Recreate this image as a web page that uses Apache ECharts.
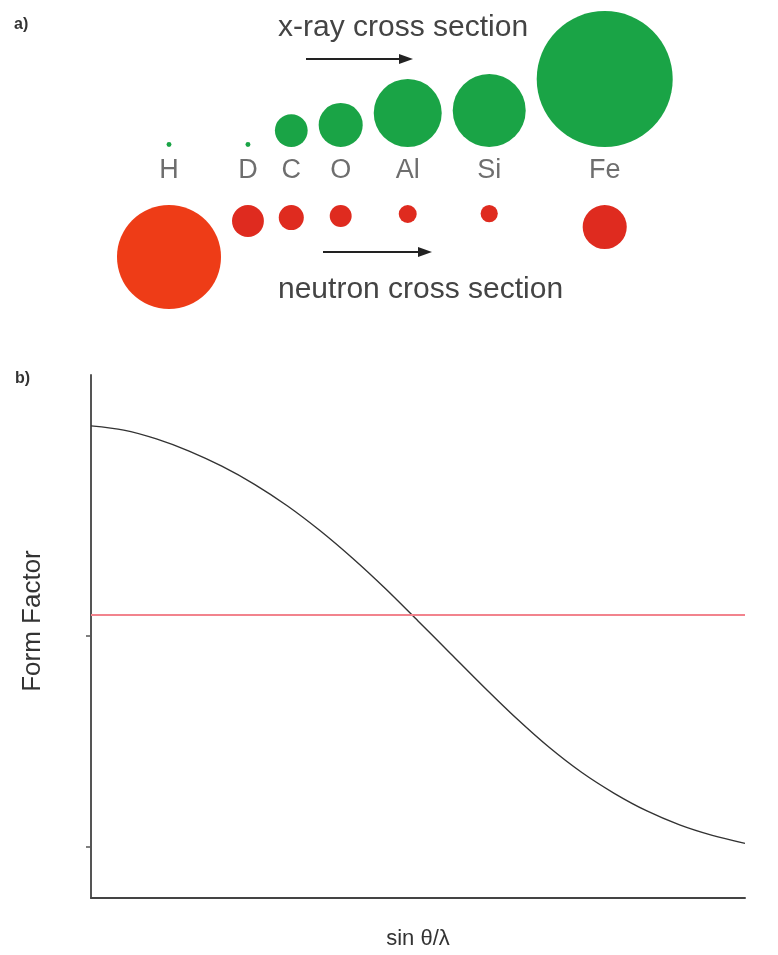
<!DOCTYPE html>
<html>
<head>
<meta charset="utf-8">
<script src="https://cdn.jsdelivr.net/npm/echarts@6/dist/echarts.min.js"></script>
<style>
  html, body { margin: 0; padding: 0; background: #fff; }
  #chart { width: 778px; height: 955px; }
</style>
</head>
<body>
<div id="chart"></div>
<script>
// ---- Panel a: scattering cross sections per element ----
const elements = ['H', 'D', 'C', 'O', 'Al', 'Si', 'Fe'];
// relative cross sections (Fe x-ray = 100); circle area is proportional to value
const xrayCross = [0.13, 0.13, 5.8, 10.5, 25, 28.8, 100];
const neutronCross = [58.5, 5.5, 3.4, 2.6, 1.75, 1.6, 10.5];

// ---- Panel b: form factor versus sin θ/λ ----
const sinThetaOverLambda = [0, 0.05, 0.1, 0.15, 0.2, 0.25, 0.3, 0.35, 0.4, 0.45, 0.5,
  0.55, 0.6, 0.65, 0.7, 0.75, 0.8, 0.85, 0.9, 0.95, 1.0];
const xrayFormFactor = [1.000, 0.990, 0.969, 0.940, 0.904, 0.861, 0.810, 0.751, 0.685, 0.613, 0.536,
  0.458, 0.380, 0.305, 0.236, 0.176, 0.126, 0.084, 0.051, 0.026, 0.007];
const neutronQ = [0, 1];
const neutronFormFactor = [0.55, 0.55];
const formFactorTicks = [0, 0.5];

// ---- layout helpers ----
const FONT = '"Liberation Sans", Arial, Helvetica, sans-serif';
const R_MAX = 68;           // radius of the largest circle, px
const GAP = 11;             // space between neighbouring circle columns, px
const START_X = 169;
const radius = v => R_MAX * Math.sqrt(v / 100);

// place columns side by side so the bigger circle of each pair never overlaps its neighbour
const colR = elements.map((_, i) => Math.max(radius(xrayCross[i]), radius(neutronCross[i])));
const colX = [];
colR.forEach((r, i) => {
  colX.push(i === 0 ? START_X : colX[i - 1] + colR[i - 1] + r + GAP);
});

const greenData = elements.map((e, i) => ({ name: e, value: [colX[i], 0, xrayCross[i]] }));
const redData = elements.map((e, i) => ({
  name: e,
  value: [colX[i], 1, neutronCross[i]],
  itemStyle: i === 0 ? { color: '#ee3c17' } : undefined
}));
const labelData = elements.map((e, i) => ({ name: e, value: [colX[i], 0.4] }));

const curve = sinThetaOverLambda.map((x, i) => [x, xrayFormFactor[i]]);
const flat = neutronQ.map((x, i) => [x, neutronFormFactor[i]]);

function arrow(x1, x2, y) {
  return [
    { type: 'line', shape: { x1: x1, y1: y, x2: x2 - 12, y2: y },
      style: { stroke: '#222', lineWidth: 2 } },
    { type: 'polygon', shape: { points: [[x2 - 14, y - 5], [x2, y], [x2 - 14, y + 5]] },
      style: { fill: '#222' } }
  ];
}

const chart = echarts.init(document.getElementById('chart'));
chart.setOption({
  animation: false,
  backgroundColor: '#fff',
  grid: [
    { left: 0, right: 0, top: 147, height: 58 },
    { left: 91, right: 33, top: 375, bottom: 55 }
  ],
  xAxis: [
    { gridIndex: 0, type: 'value', min: 0, max: 778, show: false },
    {
      gridIndex: 1, type: 'value', min: 0, max: 1,
      axisLine: { show: true, onZero: false, lineStyle: { color: '#444', width: 2 } },
      axisTick: { show: false }, axisLabel: { show: false }, splitLine: { show: false },
      name: 'sin θ/λ', nameLocation: 'middle', nameGap: 30,
      nameTextStyle: { fontSize: 22, color: '#333', fontFamily: FONT }
    }
  ],
  yAxis: [
    { gridIndex: 0, type: 'value', min: 0, max: 1, inverse: true, show: false },
    {
      gridIndex: 1, type: 'value', min: -0.123, max: 1.121,
      axisLine: { show: true, onZero: false, lineStyle: { color: '#555', width: 2 } },
      axisTick: { show: true, length: 5, customValues: formFactorTicks,
        lineStyle: { color: '#555', width: 1.5 } },
      axisLabel: { show: false }, splitLine: { show: false }
    }
  ],
  series: [
    {
      name: 'x-ray', type: 'scatter', xAxisIndex: 0, yAxisIndex: 0, clip: false,
      data: greenData,
      symbolSize: v => 2 * radius(v[2]),
      symbolOffset: [0, '-50%'],
      itemStyle: { color: '#1aa446', opacity: 1 },
      emphasis: { disabled: true }
    },
    {
      name: 'neutron', type: 'scatter', xAxisIndex: 0, yAxisIndex: 0, clip: false,
      data: redData,
      symbolSize: v => 2 * radius(v[2]),
      symbolOffset: [0, '50%'],
      itemStyle: { color: '#df2b1f', opacity: 1 },
      emphasis: { disabled: true }
    },
    {
      name: 'element', type: 'scatter', xAxisIndex: 0, yAxisIndex: 0, clip: false,
      data: labelData, symbolSize: 1,
      itemStyle: { color: 'rgba(0,0,0,0)' },
      label: { show: true, position: 'inside', formatter: '{b}',
        fontSize: 27, color: '#4a4a4a', fontFamily: FONT },
      emphasis: { disabled: true }
    },
    {
      name: 'x-ray form factor', type: 'line', xAxisIndex: 1, yAxisIndex: 1,
      data: curve, smooth: 0.3, showSymbol: false,
      lineStyle: { color: '#333', width: 1.4 }
    },
    {
      name: 'neutron form factor', type: 'line', xAxisIndex: 1, yAxisIndex: 1,
      data: flat, showSymbol: false,
      lineStyle: { color: '#f2838d', width: 2 }
    }
  ],
  graphic: [
    { type: 'text', x: 14, y: 25, style: { text: 'a)', font: 'bold 16px ' + FONT, fill: '#333', verticalAlign: 'middle' } },
    { type: 'text', x: 15, y: 379, style: { text: 'b)', font: 'bold 16px ' + FONT, fill: '#333', verticalAlign: 'middle' } },
    { type: 'text', x: 278, y: 28, style: { text: 'x-ray cross section', font: '30px ' + FONT, fill: '#444', verticalAlign: 'middle' } },
    { type: 'text', x: 278, y: 290, style: { text: 'neutron cross section', font: '30px ' + FONT, fill: '#444', verticalAlign: 'middle' } },
    ...arrow(306, 413, 59),
    ...arrow(323, 432, 252),
    { type: 'text', x: 33, y: 621, rotation: Math.PI / 2,
      style: { text: 'Form Factor', font: '26px ' + FONT, fill: '#333', align: 'center', verticalAlign: 'middle' } }
  ]
});
</script>
</body>
</html>
